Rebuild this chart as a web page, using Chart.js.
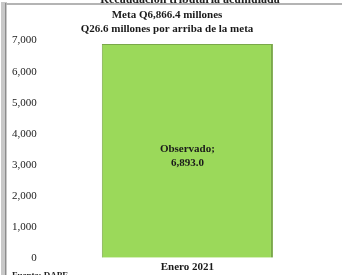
<!DOCTYPE html>
<html>
<head>
<meta charset="utf-8">
<script src="https://cdn.jsdelivr.net/npm/chart.js@4.4.1/dist/chart.umd.min.js"></script>
<style>
  html, body { margin: 0; padding: 0; background: #fff; }
  #wrap { width: 342px; height: 275px; position: relative; }
</style>
</head>
<body>
<div id="wrap"><canvas id="metaChart" width="342" height="275"></canvas></div>
<script>
const categories = ["Enero 2021"];
const observado = [6893.0];
const serieNombre = "Observado";
const tituloLineas = ["Meta Q6,866.4 millones", "Q26.6 millones por arriba de la meta"];
const yTicks = [0, 1000, 2000, 3000, 4000, 5000, 6000, 7000];

// frame, cut-off header and source note
const framePlugin = {
  id: "frame",
  beforeDraw(chart) {
    const c = chart.ctx;
    c.save();
    c.fillStyle = "#fff";
    c.fillRect(0, 0, chart.width, chart.height);
    c.fillStyle = "#222";
    c.font = "bold 12px 'Liberation Serif'";
    c.textAlign = "center";
    c.textBaseline = "alphabetic";
    c.fillText("Recaudación tributaria acumulada", 190, 3);
    c.fillStyle = "#fff";
    c.fillRect(0, 3, chart.width, 4);
    // left grey rail
    c.fillStyle = "#c8c8c8";
    c.fillRect(1, 2, 6, chart.height);
    c.fillStyle = "#8c8c8c";
    c.fillRect(5, 3, 1, chart.height);
    // top line
    c.fillStyle = "#b4b4b4";
    c.fillRect(6, 3, chart.width, 2);
    c.restore();
  },
  afterDraw(chart) {
    const c = chart.ctx;
    c.save();
    c.fillStyle = "#222";
    c.font = "bold 9px 'Liberation Serif'";
    c.textAlign = "left";
    c.fillText("Fuente: DAPF", 12, 278);
    c.restore();
  }
};

// value label inside the bar
const labelPlugin = {
  id: "barLabel",
  afterDatasetsDraw(chart) {
    const c = chart.ctx;
    const meta = chart.getDatasetMeta(0);
    c.save();
    c.fillStyle = "#1a1a1a";
    c.font = "bold 11px 'Liberation Serif'";
    c.textAlign = "center";
    c.textBaseline = "middle";
    meta.data.forEach((bar, i) => {
      const y = chart.scales.y.getPixelForValue(observado[i] / 2);
      c.fillText(serieNombre + ";", bar.x, y - 2);
      c.fillText(observado[i].toLocaleString("en-US", { minimumFractionDigits: 1, maximumFractionDigits: 1 }), bar.x, y + 12);
    });
    c.restore();
  }
};

new Chart(document.getElementById("metaChart"), {
  type: "bar",
  data: {
    labels: categories,
    datasets: [{
      label: serieNombre,
      data: observado,
      backgroundColor: "#9bd95a",
      borderColor: "#7aa84a",
      borderWidth: { top: 1, left: 1, right: 2, bottom: 2 },
      barPercentage: 0.6,
      categoryPercentage: 1
    }]
  },
  options: {
    responsive: false,
    animation: false,
    layout: { padding: { left: 4, right: 12, top: 0, bottom: -2 } },
    plugins: {
      legend: { display: false },
      tooltip: { enabled: false },
      title: {
        display: true,
        text: tituloLineas,
        color: "#1a1a1a",
        font: { family: "Liberation Serif", size: 11, weight: "bold", lineHeight: 1.3 },
        padding: { top: 8, bottom: 4 }
      }
    },
    scales: {
      x: {
        grid: { display: false, drawTicks: false },
        border: { display: false },
        ticks: {
          color: "#1a1a1a",
          font: { family: "Liberation Serif", size: 11, weight: "bold" },
          padding: 3
        }
      },
      y: {
        min: 0,
        max: 7000,
        afterBuildTicks(axis) { axis.ticks = yTicks.map(v => ({ value: v })); },
        grid: { display: false, drawTicks: false },
        border: { display: false },
        ticks: {
          color: "#222",
          font: { family: "Liberation Serif", size: 11 },
          padding: 8,
          callback: v => v.toLocaleString("en-US")
        }
      }
    }
  },
  plugins: [framePlugin, labelPlugin]
});
</script>
</body>
</html>
